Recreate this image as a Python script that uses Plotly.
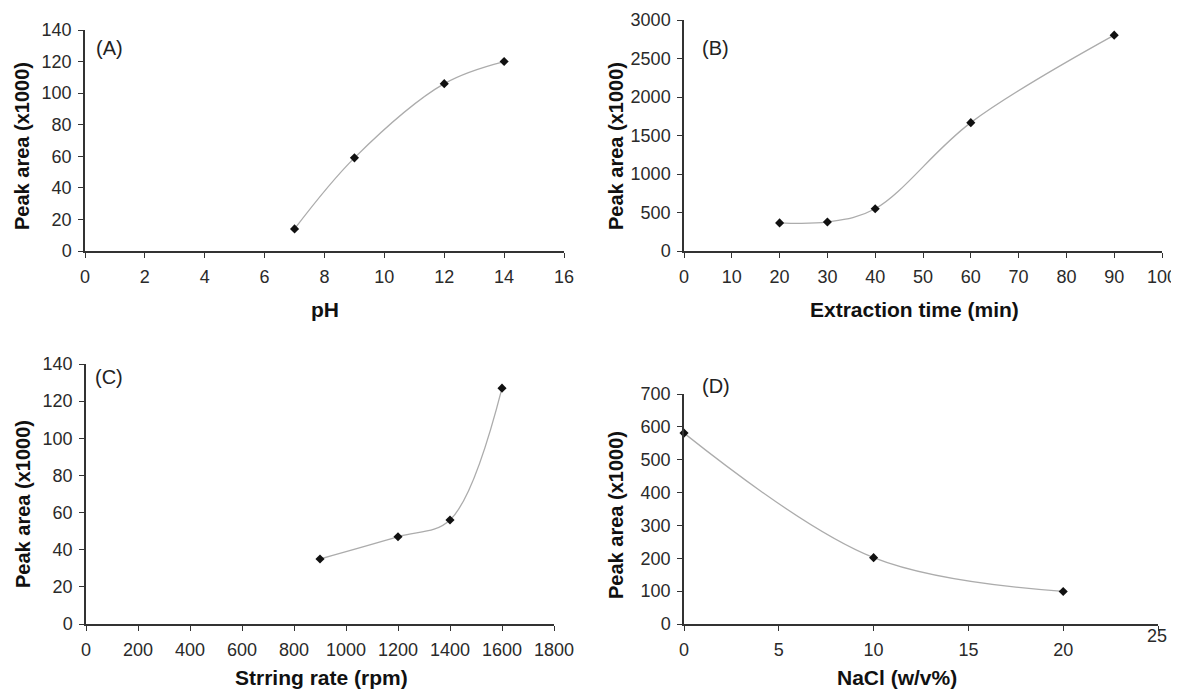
import plotly.graph_objects as go

# ---- data ----
ph_x = [7, 9, 12, 14]
ph_y = [14, 59, 106, 120]

time_x = [20, 30, 40, 60, 90]
time_y = [365, 377, 549, 1667, 2803]

stir_x = [900, 1200, 1400, 1600]
stir_y = [35, 47, 56, 127]

nacl_x = [0, 10, 20]
nacl_y = [581, 202, 99]

panel_labels = ["(A)", "(B)", "(C)", "(D)"]
x_titles = ["pH", "Extraction time (min)", "Strring rate (rpm)", "NaCl (w/v%)"]
y_title = "Peak area (x1000)"

# page has an 8px body margin; size the figure so it fits the 1179x690 window
OFF = 8
W, H = 1179 - OFF, 690 - OFF
FONT = "Liberation Sans, Arial, sans-serif"

def px(x):
    return (x - OFF) / W

def py(y):
    return 1 - (y - OFF) / H

fig = go.Figure()

series = [(ph_x, ph_y), (time_x, time_y), (stir_x, stir_y), (nacl_x, nacl_y)]
for i, (xs, ys) in enumerate(series):
    ax = "" if i == 0 else str(i + 1)
    fig.add_trace(go.Scatter(
        x=xs, y=ys, mode="lines+markers",
        line=dict(shape="spline", smoothing=1.0, color="#acacac", width=1.3),
        marker=dict(symbol="diamond", size=7, color="#111111"),
        xaxis="x" + ax, yaxis="y" + ax, showlegend=False, cliponaxis=False,
    ))

# pixel boxes in window coords (left, right, bottom, top)
boxes = [
    (85, 564, 251, 30),
    (684, 1162, 251, 20),
    (86, 554, 624, 364),
    (684, 1158, 624, 394),
]
xranges = [[0, 16], [0, 100], [0, 1800], [0, 25]]
yranges = [[0, 140], [0, 3000], [0, 140], [0, 700]]
xdt = [2, 10, 200, 5]
ydt = [20, 500, 20, 100]

axis_common = dict(
    showline=True, linecolor="#333333", linewidth=1.5, mirror=False,
    showgrid=False, zeroline=False, ticks="outside", ticklen=5,
    tickwidth=1.2, tickcolor="#333333", automargin=False,
    tickfont=dict(family=FONT, size=18, color="#2a2a2a"),
)

layout = dict(
    width=W, height=H, margin=dict(l=0, r=0, t=0, b=0, autoexpand=False),
    paper_bgcolor="white", plot_bgcolor="white",
)
for i in range(4):
    l, r, b, t = boxes[i]
    ax = "" if i == 0 else str(i + 1)
    xa = dict(axis_common, domain=[px(l), px(r)], range=xranges[i],
              dtick=xdt[i], tick0=0, anchor="y" + ax, ticklabelstandoff=4)
    if i == 3:
        xa["tickmode"] = "array"
        xa["tickvals"] = [0, 5, 10, 15, 20, 25]
        xa["ticktext"] = ["0", "5", "10", "15", "20", ""]
    ya = dict(axis_common, domain=[py(b), py(t)], range=yranges[i],
              dtick=ydt[i], tick0=0, anchor="x" + ax, ticklabelstandoff=3)
    layout["xaxis" + ax] = xa
    layout["yaxis" + ax] = ya

fig.update_layout(**layout)

ann = []
label_pos = [(109, 48), (715, 48), (109, 377), (716, 386)]
for lab, (x, y) in zip(panel_labels, label_pos):
    ann.append(dict(text=lab, x=px(x), y=py(y), xref="paper", yref="paper",
                    showarrow=False, xanchor="center", yanchor="middle",
                    font=dict(family=FONT, size=20, color="#222222")))

xt_pos = [(325, 309), (914, 309), (321, 677), (897, 677)]
for lab, (x, y) in zip(x_titles, xt_pos):
    ann.append(dict(text="<b>" + lab + "</b>", x=px(x), y=py(y), xref="paper", yref="paper",
                    showarrow=False, xanchor="center", yanchor="middle",
                    font=dict(family=FONT, size=21, color="#111111")))

yt_pos = [(22, 146), (616, 146), (23, 504), (616, 515)]
for (x, y) in yt_pos:
    ann.append(dict(text="<b>" + y_title + "</b>", x=px(x), y=py(y), xref="paper", yref="paper",
                    showarrow=False, xanchor="center", yanchor="middle", textangle=-90,
                    font=dict(family=FONT, size=20, color="#111111")))

# displaced "25" tick label on panel D
ann.append(dict(text="25", x=px(1157), y=py(636), xref="paper", yref="paper",
                showarrow=False, xanchor="center", yanchor="middle",
                font=dict(family=FONT, size=18, color="#2a2a2a")))

fig.update_layout(annotations=ann)
fig.write_html("out.html")
